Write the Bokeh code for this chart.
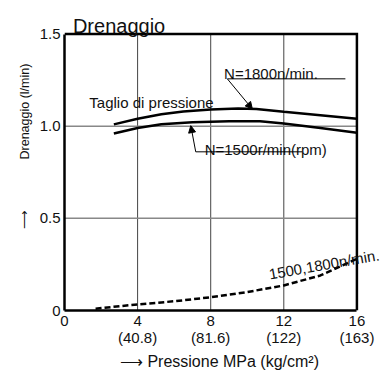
from bokeh.plotting import figure
from bokeh.models import Range1d, FixedTicker, Label, Arrow, NormalHead, LinearAxis, Title
from bokeh.embed import file_html
from bokeh.resources import INLINE

# ---- data ----
pressure_ticks = [0, 4, 8, 12, 16]
pressure_tick_labels = ["0", "4", "8", "12", "16"]
pressure_kg_labels = ["", "(40.8)", "(81.6)", "(122)", "(163)"]
drain_ticks = [0, 0.5, 1.0, 1.5]
drain_tick_labels = ["0", "0.5", "1.0", "1.5"]
pressure_grid = [4, 8, 12]
drain_grid = [0.5, 1.0]

pressure_1800 = [2.7, 4.0, 5.3, 6.5, 8.0, 9.5, 10.5, 12.0, 14.0, 16.0]
drain_1800 = [1.01, 1.04, 1.065, 1.08, 1.09, 1.096, 1.093, 1.078, 1.06, 1.04]

pressure_1500 = [2.7, 4.0, 5.3, 7.0, 9.0, 10.7, 12.0, 14.0, 16.0]
drain_1500 = [0.96, 0.99, 1.01, 1.022, 1.027, 1.027, 1.014, 0.99, 0.965]

pressure_cut = [1.7, 4.0, 6.0, 8.0, 10.0, 12.0, 14.0, 16.0]
drain_cut = [0.01, 0.033, 0.05, 0.072, 0.1, 0.136, 0.19, 0.28]

P_MAX = 16
D_MAX = 1.5

FONT = "Liberation Sans"
NARROW = "Liberation Sans Narrow, Liberation Sans"
INK = "#111111"

p = figure(width=382, height=374, x_range=Range1d(0, 17.4), y_range=Range1d(0, 1.682),
           output_backend="svg", toolbar_location=None,
           min_border_left=64, min_border_right=0, min_border_top=0, min_border_bottom=64)
p.background_fill_color = "white"
p.border_fill_color = "white"
p.outline_line_color = None
p.xgrid.visible = False
p.ygrid.visible = False

# primary axes
p.xaxis.ticker = FixedTicker(ticks=pressure_ticks)
p.xaxis.major_label_overrides = {t: l for t, l in zip(pressure_ticks, pressure_tick_labels)}
p.yaxis.ticker = FixedTicker(ticks=drain_ticks)
p.yaxis.major_label_overrides = {t: l for t, l in zip(drain_ticks, drain_tick_labels)}
p.xaxis.bounds = (0, P_MAX)
p.yaxis.bounds = (0, D_MAX)

# secondary x axis with kg/cm2 labels
kg_axis = LinearAxis(ticker=FixedTicker(ticks=pressure_ticks),
                     major_label_overrides={t: l for t, l in zip(pressure_ticks, pressure_kg_labels)},
                     bounds=(0, P_MAX))
p.add_layout(kg_axis, "below")

for ax in (p.xaxis[0], p.yaxis[0], kg_axis):
    ax.axis_line_color = "black"
    ax.axis_line_width = 2.5
    ax.major_tick_line_color = None
    ax.minor_tick_line_color = None
    ax.major_tick_out = 0
    ax.major_tick_in = 0
    ax.minor_tick_out = 0
    ax.minor_tick_in = 0
    ax.major_label_text_font = FONT
    ax.major_label_text_font_size = "15px"
    ax.major_label_text_color = INK
kg_axis.axis_line_color = None
p.xaxis[0].major_label_standoff = 5
kg_axis.major_label_standoff = 0
p.yaxis[0].major_label_standoff = 4

kg_axis.axis_label = "\u27f6 Pressione MPa (kg/cm\u00b2)\u2002"
kg_axis.axis_label_text_font = FONT
kg_axis.axis_label_text_font_size = "16px"
kg_axis.axis_label_text_font_style = "normal"
kg_axis.axis_label_text_color = INK
kg_axis.axis_label_standoff = 4

# vertical y-axis title, placed with an offset from the bottom of the chart
y_title = Title(text="\u27f6\u2003\u2003\u2003\u2003Drenaggio (l/min)", align="left", offset=82,
                text_font=NARROW, text_font_size="12.5px", text_font_style="normal",
                text_color=INK)
p.add_layout(y_title, "left")

# grid lines limited to the chart box
p.segment(x0=pressure_grid, y0=[0] * len(pressure_grid), x1=pressure_grid, y1=[D_MAX] * len(pressure_grid),
          line_color="#444444", line_width=1)
p.segment(x0=[0] * len(drain_grid), y0=drain_grid, x1=[P_MAX] * len(drain_grid), y1=drain_grid,
          line_color="#888888", line_width=1.5)

# top and right frame edges
p.line([0, P_MAX, P_MAX], [D_MAX, D_MAX, 0], line_color="black", line_width=2.5, line_join="miter")

p.line(pressure_1800, drain_1800, line_color="black", line_width=2.5)
p.line(pressure_1500, drain_1500, line_color="black", line_width=2.5)
p.line(pressure_cut, drain_cut, line_color="black", line_width=2.5, line_dash="6 3")

def lab(x, y, t, size="15px", angle=0.0):
    p.add_layout(Label(x=x, y=y, text=t, text_font=FONT, text_font_size=size,
                       text_color=INK, text_align="left", text_baseline="alphabetic",
                       angle=angle))

lab(0.46, 1.545, "Drenaggio", "20px")
lab(1.36, 1.126, "Taglio di pressione")
lab(8.73, 1.284, "N=1800n/min.")
lab(7.67, 0.876, "N=1500r/min(rpm)")
lab(11.19, 0.197, "1500,1800n/min.", angle=0.175)

def arrow(x0, y0, x1, y1, head=True, size=7):
    end = NormalHead(size=size, fill_color="black", line_color="black", line_width=1) if head else None
    p.add_layout(Arrow(x_start=x0, y_start=y0, x_end=x1, y_end=y1, end=end,
                       line_color="black", line_width=1))

# leader lines
arrow(8.91, 1.257, 15.37, 1.257, head=False)
arrow(8.91, 1.257, 10.28, 1.093)
arrow(7.18, 0.861, 13.01, 0.861, head=False)
arrow(7.18, 0.861, 6.91, 1.003)

open("out.html", "w").write(file_html(p, INLINE))
